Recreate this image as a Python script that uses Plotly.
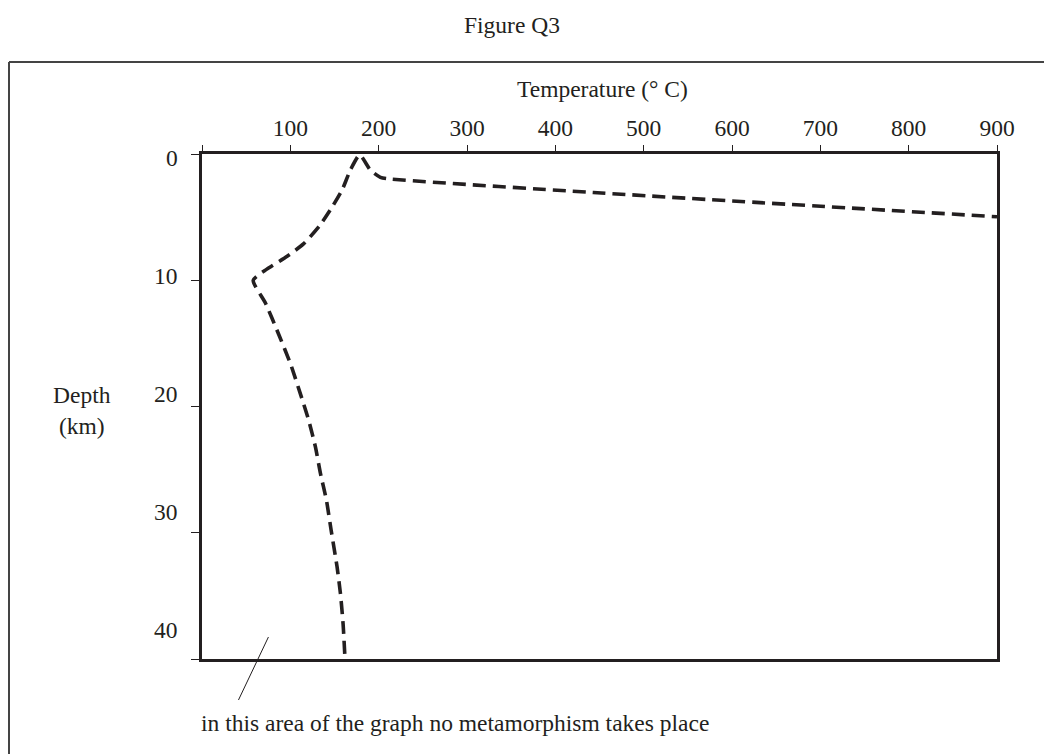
import plotly.graph_objects as go

# Data
temperature = [161.6, 159.7, 156.7, 152.9, 146.2, 140.8, 134.1, 128.4, 120.8, 111.4,
               100.1, 86.9, 71.8, 58.0, 71.8, 96.4, 115.2, 134.0,
               147.3, 158.6, 168.0, 178.5, 190.6, 202.0, 213.0, 443.0, 900.0]
depth = [39.6, 37.2, 34.8, 32.7, 29.8, 27.4, 25.3, 23.2, 21.1, 19.0,
         16.6, 14.3, 11.8, 10.0, 9.2, 8.1, 7.1, 5.6,
         4.2, 2.85, 1.27, 0.08, 1.27, 1.85, 1.98, 3.05, 4.97]

x_ticks = [0, 100, 200, 300, 400, 500, 600, 700, 800, 900]
x_tick_labels = ["", "100", "200", "300", "400", "500", "600", "700", "800", "900"]
y_ticks = [0, 10, 20, 30, 40]
y_tick_labels = ["0", "10", "20", "30", "40"]

INK = "#231f20"
FONT = "Liberation Serif, Times New Roman, serif"
FS = 23.5

OFF = 8  # page body margin
W, H = 1052 - OFF, 754 - OFF
ML, MR, MT, MB = 202 - OFF, 55, 154 - OFF, 95
plot_h = H - MT - MB
plot_w = W - ML - MR


def px_x(p):
    return (p - OFF - ML) / plot_w


def px_y(p):
    return 1 - (p - OFF - MT) / plot_h


fig = go.Figure()
fig.add_trace(go.Scatter(
    x=temperature, y=depth, mode="lines",
    line=dict(color=INK, width=3.6, dash="13px,7px", shape="spline", smoothing=0.6),
    hoverinfo="skip", showlegend=False,
))

fig.update_layout(
    width=W, height=H,
    margin=dict(l=ML, r=MR, t=MT, b=MB),
    paper_bgcolor="white", plot_bgcolor="white",
    font=dict(family=FONT, size=FS, color=INK),
    showlegend=False,
    xaxis=dict(
        side="top", range=[0, 900], tickmode="array",
        tickvals=x_ticks, ticktext=x_tick_labels,
        ticks="outside", ticklen=6, tickwidth=1.3, tickcolor=INK,
        showline=True, linewidth=3, linecolor=INK, mirror=True,
        showgrid=False, zeroline=False,
        tickfont=dict(family=FONT, size=FS, color=INK),
    ),
    yaxis=dict(
        range=[40, 0], tickmode="array", tickvals=y_ticks,
        showticklabels=False,
        ticks="outside", ticklen=8, tickwidth=1.3, tickcolor=INK,
        showline=True, linewidth=3, linecolor=INK, mirror=True,
        showgrid=False, zeroline=False,
    ),
)

# Y tick labels (drawn slightly above their ticks, as in the reference)
for v, lab in zip(y_ticks, y_tick_labels):
    fig.add_annotation(
        text=lab, xref="paper", yref="paper",
        x=px_x(180), y=px_y(158 + v * 11.8),
        xanchor="right", yanchor="middle",
        showarrow=False, font=dict(family=FONT, size=FS, color=INK),
    )

# Axis titles and figure title
fig.add_annotation(text="Temperature (° C)", xref="paper", yref="paper",
                   x=px_x(602), y=px_y(89),
                   xanchor="center", yanchor="middle", showarrow=False,
                   font=dict(family=FONT, size=FS, color=INK))
fig.add_annotation(text="Depth<br>(km)", xref="paper", yref="paper",
                   x=px_x(82), y=px_y(410),
                   xanchor="center", yanchor="middle", showarrow=False,
                   font=dict(family=FONT, size=FS, color=INK))
fig.add_annotation(text="Figure Q3", xref="paper", yref="paper",
                   x=px_x(512), y=px_y(25),
                   xanchor="center", yanchor="middle", showarrow=False,
                   font=dict(family=FONT, size=FS, color=INK))
fig.add_annotation(text="in this area of the graph no metamorphism takes place",
                   xref="paper", yref="paper",
                   x=px_x(199), y=px_y(723),
                   xanchor="left", yanchor="middle", showarrow=False,
                   font=dict(family=FONT, size=FS, color=INK))

# Pointer line
fig.add_shape(type="line", xref="x", yref="paper",
              x0=41.3, x1=75.2, y0=px_y(700), y1=px_y(637),
              line=dict(color=INK, width=1))

# Outer frame (top and left edges)
fig.add_shape(type="line", xref="paper", yref="paper",
              x0=px_x(9), x1=px_x(1060), y0=px_y(62), y1=px_y(62),
              line=dict(color="#444444", width=2))
fig.add_shape(type="line", xref="paper", yref="paper",
              x0=px_x(9), x1=px_x(9), y0=px_y(62), y1=px_y(760),
              line=dict(color="#444444", width=2))

fig.write_html("out.html")
